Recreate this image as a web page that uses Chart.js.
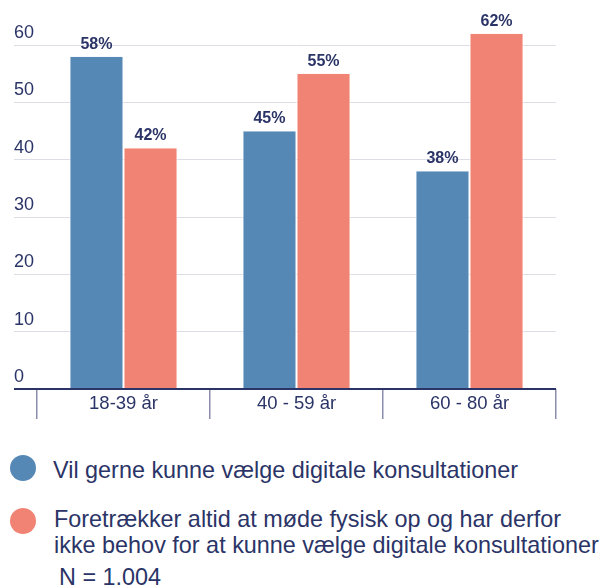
<!DOCTYPE html>
<html>
<head>
<meta charset="utf-8">
<script src="https://cdn.jsdelivr.net/npm/chart.js@4/dist/chart.umd.min.js"></script>
<style>
  html, body { margin: 0; padding: 0; background: #fff; }
  body { width: 606px; height: 587px; position: relative; overflow: hidden; font-family: "Liberation Sans", Arial, sans-serif; color: #2b3467; }
  #wrap { position: absolute; left: 0; top: 0; width: 606px; height: 430px; }
  .dot { position: absolute; width: 26px; height: 26px; border-radius: 50%; }
  .txt { position: absolute; font-size: 23.4px; line-height: 26px; white-space: nowrap; }
</style>
</head>
<body>
<div id="wrap"><canvas id="c"></canvas></div>
<div class="dot" style="left:10px; top:455px; background:#5688b6"></div>
<div class="txt" id="l1" style="left:53px; top:457px"></div>
<div class="dot" style="left:10px; top:508px; background:#f08373"></div>
<div class="txt" id="l2" style="left:54px; top:506px"></div>
<div class="txt" id="note" style="left:59px; top:564px"></div>
<script>
const categories = ["18-39 år", "40 - 59 år", "60 - 80 år"];
const seriesNames = ["Vil gerne kunne vælge digitale konsultationer",
  "Foretrækker altid at møde fysisk op og har derfor\nikke behov for at kunne vælge digitale konsultationer"];
const digitalValues = [58, 45, 38];
const physicalValues = [42, 55, 62];
const yTicks = [0, 10, 20, 30, 40, 50, 60];
const noteText = "N = 1.004";

const NAVY = "#2b3467";
const BLUE = "#5688b6";
const RED = "#f08373";

document.getElementById("l1").textContent = seriesNames[0];
document.getElementById("l2").innerHTML = seriesNames[1].split("\n").map(s => s.replace(/&/g,"&amp;")).join("<br>");
document.getElementById("note").textContent = noteText;

const labelPlugin = {
  id: "barLabels",
  afterDatasetsDraw(chart) {
    const ctx = chart.ctx;
    ctx.save();
    ctx.font = "bold 16px 'Liberation Sans', Arial, sans-serif";
    ctx.fillStyle = NAVY;
    ctx.textAlign = "center";
    ctx.textBaseline = "alphabetic";
    chart.data.datasets.forEach((ds, i) => {
      const meta = chart.getDatasetMeta(i);
      meta.data.forEach((bar, j) => {
        ctx.fillText(ds.data[j] + "%", bar.x, bar.y - 8);
      });
    });
    ctx.restore();
  }
};

new Chart(document.getElementById("c"), {
  type: "bar",
  data: {
    labels: categories,
    datasets: [
      { label: seriesNames[0], data: digitalValues, backgroundColor: BLUE,
        borderColor: "#ffffff", borderWidth: { left: 1, right: 1, top: 0, bottom: 0 }, borderSkipped: false,
        barPercentage: 1, categoryPercentage: 0.625 },
      { label: seriesNames[1], data: physicalValues, backgroundColor: RED,
        borderColor: "#ffffff", borderWidth: { left: 1, right: 1, top: 0, bottom: 0 }, borderSkipped: false,
        barPercentage: 1, categoryPercentage: 0.625 }
    ]
  },
  options: {
    responsive: true,
    maintainAspectRatio: false,
    animation: false,
    layout: { padding: { left: 14, right: 50, top: 0, bottom: 0 } },
    plugins: { legend: { display: false }, tooltip: { enabled: false } },
    scales: {
      x: {
        offset: true,
        grid: { offset: true, drawOnChartArea: false, drawTicks: true, tickLength: 30, color: "#8a8eab", lineWidth: 1.5 },
        border: { display: false },
        ticks: { color: NAVY, font: { size: 18.5, family: "'Liberation Sans', Arial, sans-serif" }, padding: -26, maxRotation: 0 },
        afterFit(scale) { scale.height = 41; }
      },
      y: {
        min: 0, max: 66,
        afterBuildTicks(scale) { scale.ticks = yTicks.map(v => ({ value: v })); },
        grid: {
          color: ctx => (ctx.tick && ctx.tick.value === 0) ? NAVY : "#dcdde7",
          lineWidth: ctx => (ctx.tick && ctx.tick.value === 0) ? 2 : 1,
          tickLength: 23
        },
        border: { display: false },
        ticks: { color: NAVY, font: { size: 18, family: "'Liberation Sans', Arial, sans-serif" },
          crossAlign: "far", labelOffset: -12, padding: 0 },
        afterFit(scale) { scale.width = 23; }
      }
    }
  },
  plugins: [labelPlugin]
});
</script>
</body>
</html>
